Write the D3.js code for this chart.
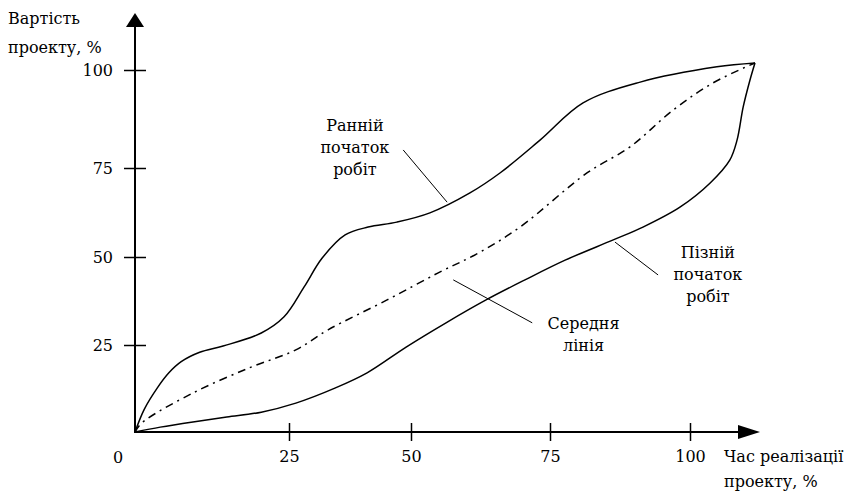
<!doctype html>
<html>
<head>
<meta charset="utf-8">
<style>
    body { margin: 0; background: #fff; }
    svg { display: block; }
    text { font-family: 'DejaVu Serif', serif; font-size: 16px; fill: #000; }
    .axis path.domain { stroke: none; }
    .axis line { stroke: #000; stroke-width: 1.5; }
    .curve { fill: none; stroke: #000; stroke-width: 1.5; }
    .mid { fill: none; stroke: #000; stroke-width: 1.5; stroke-dasharray: 8 5 2 5; }
    .pointer { stroke: #000; stroke-width: 1; }
</style>
<script src="https://d3js.org/d3.v7.min.js"></script>
</head>
<body>
<svg width="861" height="493"></svg>
<script>
    // tick values on both axes (%)
    const ticks = [25, 50, 75, 100]

    // early start curve (Ранній початок робіт)
    const earlyX = [0, 1.5, 3.6, 5.5, 7.5, 10.5, 14.3, 20.5, 24.2, 28.1, 31.8, 36.5, 41.2, 47.1, 53.4, 60.6, 66.0, 73.2, 80.9, 91.1, 104.8, 111.6]
    const earlyY = [0, 6.5, 12.6, 17.0, 20.2, 22.9, 24.7, 28.4, 33.0, 41.5, 49.7, 56.2, 58.4, 59.8, 62.4, 68.0, 73.6, 82.1, 91.6, 96.9, 100.8, 101.8]

    // late start curve (Пізній початок робіт)
    const lateX = [0, 4.1, 9.4, 14.9, 20.5, 26.4, 34.4, 41.0, 49.0, 56.3, 63.5, 70.5, 77.7, 86.3, 91.6, 98.2, 103.6, 107.1, 108.4, 109.5, 110.7, 111.6]
    const lateY = [0, 1.4, 2.9, 4.3, 5.7, 8.3, 12.6, 17.0, 24.4, 31.3, 37.8, 43.5, 49.1, 54.8, 58.4, 64.0, 70.8, 77.0, 82.1, 90.6, 97.4, 101.8]

    // middle line (Середня лінія)
    const midX = [0, 1.1, 9.4, 18.5, 26.4, 33.0, 45.1, 54.9, 62.1, 69.6, 81.6, 89.3, 97.0, 104.1, 111.6]
    const midY = [0, 2.6, 11.2, 18.4, 23.6, 29.3, 37.8, 45.5, 51.1, 58.4, 73.6, 80.4, 89.8, 96.7, 101.8]

    // callouts: text lines, text anchor point, pointer from -> to (in axis units)
    const notes = [
        { lines: ['Ранній', 'початок', 'робіт'], tx: 38.5, ty: 84.4, p: [48.4, 79.6, 56.5, 65.4] },
        { lines: ['Пізній', 'початок', 'робіт'], tx: 103.2, ty: 49.7, p: [86.6, 54.2, 94.3, 44.9] },
        { lines: ['Середня', 'лінія'], tx: 81.0, ty: 29.5, p: [57.6, 43.5, 71.8, 31.3] }
    ]

    const svg = d3.select('svg')

    // hand-drawn axes: ticks are not evenly spaced in the original
    const xScale = d3.scaleLinear()
        .domain([0, 25, 50, 75, 100])
        .range([135, 289, 411, 550, 690])

    const yScale = d3.scaleLinear()
        .domain([0, 25, 50, 75, 100])
        .range([432, 345, 257, 168, 70])

    const x0 = xScale(0), y0 = yScale(0)

    // y axis
    const yAxis = svg.append('g')
        .attr('class', 'axis')
        .attr('transform', `translate(${x0}, 0)`)
        .call(d3.axisLeft(yScale).tickValues(ticks).tickSize(11).tickPadding(11))
    yAxis.selectAll('.tick line').attr('x1', 11)
    yAxis.selectAll('text').style('font-size', '16px').style('font-family', 'DejaVu Serif')

    // x axis
    const xAxis = svg.append('g')
        .attr('class', 'axis')
        .attr('transform', `translate(0, ${y0})`)
        .call(d3.axisBottom(xScale).tickValues(ticks).tickSize(9).tickPadding(10))
    xAxis.selectAll('.tick line').attr('y1', -9)
    xAxis.selectAll('text').style('font-size', '16px').style('font-family', 'DejaVu Serif')

    svg.append('text')
        .attr('x', x0 - 17)
        .attr('y', y0 + 31)
        .attr('text-anchor', 'middle')
        .text('0')

    // axis lines with arrow heads
    const yTop = 13, xEnd = 760
    svg.append('line')
        .attr('x1', x0).attr('y1', y0 + 1)
        .attr('x2', x0).attr('y2', yTop + 10)
        .attr('stroke', '#000').attr('stroke-width', 2)
    svg.append('path')
        .attr('d', `M${x0},${yTop} L${x0 - 9},${yTop + 14} L${x0 + 9},${yTop + 14} Z`)
        .attr('fill', '#000')
    svg.append('line')
        .attr('x1', x0 - 1).attr('y1', y0)
        .attr('x2', xEnd - 10).attr('y2', y0)
        .attr('stroke', '#000').attr('stroke-width', 2)
    svg.append('path')
        .attr('d', `M${xEnd},${y0} L${xEnd - 22},${y0 - 7} L${xEnd - 22},${y0 + 7} Z`)
        .attr('fill', '#000')

    // curves
    const line = d3.line()
        .x((d) => xScale(d[0]))
        .y((d) => yScale(d[1]))
        .curve(d3.curveCatmullRom.alpha(0.5))

    svg.append('path')
        .attr('class', 'curve')
        .attr('d', line(d3.zip(earlyX, earlyY)))

    svg.append('path')
        .attr('class', 'curve')
        .attr('d', line(d3.zip(lateX, lateY)))

    svg.append('path')
        .attr('class', 'mid')
        .attr('d', line(d3.zip(midX, midY)))

    // callouts
    notes.forEach((n) => {
        svg.append('line')
            .attr('class', 'pointer')
            .attr('x1', xScale(n.p[0])).attr('y1', yScale(n.p[1]))
            .attr('x2', xScale(n.p[2])).attr('y2', yScale(n.p[3]))

        const t = svg.append('text')
            .attr('text-anchor', 'middle')
            .attr('x', xScale(n.tx))
            .attr('y', yScale(n.ty))
        n.lines.forEach((s, i) => {
            t.append('tspan')
                .attr('x', xScale(n.tx))
                .attr('dy', i === 0 ? 0 : 22)
                .text(s)
        })
    })

    // axis titles
    const yTitle = svg.append('text').attr('x', 8).attr('y', 24)
    yTitle.append('tspan').attr('x', 8).text('Вартість')
    yTitle.append('tspan').attr('x', 8).attr('dy', 29).text('проекту, %')

    const xTitle = svg.append('text').attr('x', 724).attr('y', 462)
    xTitle.append('tspan').attr('x', 724).text('Час реалізації')
    xTitle.append('tspan').attr('x', 724).attr('dy', 25).text('проекту, %')
</script>
</body>
</html>
